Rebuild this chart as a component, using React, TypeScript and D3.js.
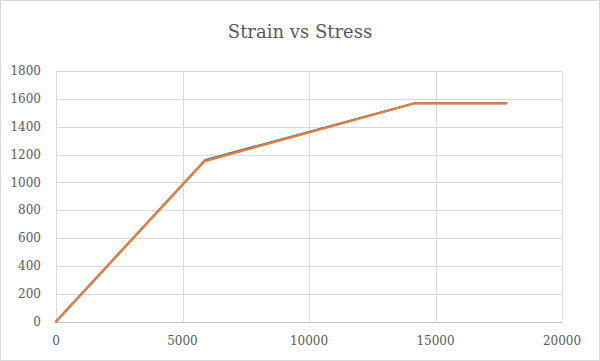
import React, { useEffect, useRef } from 'react';
import * as d3 from 'd3';

const strainTicks = [0, 5000, 10000, 15000, 20000];
const stressTicks = [0, 200, 400, 600, 800, 1000, 1200, 1400, 1600, 1800];

const blueStrain = [0, 5900, 14200, 17800];
const blueStress = [0, 1160, 1570, 1570];
const orangeStrain = [0, 5850, 14200, 17800];
const orangeStress = [0, 1150, 1568, 1568];

export default function App() {
    const svgRef = useRef<SVGSVGElement>(null);

    useEffect(() => {
        if (!svgRef.current) return;
        const width = 600;
        const height = 361;
        const font = 'DejaVu Serif';
        const textColor = '#595959';

        const svg = d3.select(svgRef.current);
        svg.selectAll('*').remove();

        // chart area border
        svg.append('rect')
            .attr('x', 0.5).attr('y', 0.5)
            .attr('width', width - 1).attr('height', height - 1)
            .attr('fill', '#fff')
            .attr('stroke', '#d9d9d9');

        const x = d3.scaleLinear().domain([0, 20000]).range([56, 562]);
        const y = d3.scaleLinear().domain([0, 1800]).range([321.5, 71]);

        svg.append('text')
            .attr('x', width / 2).attr('y', 38)
            .attr('text-anchor', 'middle')
            .attr('font-family', font)
            .attr('font-size', 18)
            .attr('fill', textColor)
            .text('Strain vs Stress');

        const grid = svg.append('g');
        stressTicks.forEach(t => {
            grid.append('line')
                .attr('x1', x(0)).attr('x2', x(20000))
                .attr('y1', Math.round(y(t)) + 0.5).attr('y2', Math.round(y(t)) + 0.5)
                .attr('stroke', t === 0 ? '#bfbfbf' : '#d9d9d9');
            svg.append('text')
                .attr('x', 41).attr('y', y(t))
                .attr('dy', '0.35em')
                .attr('text-anchor', 'end')
                .attr('font-family', font)
                .attr('font-size', 12)
                .attr('fill', textColor)
                .text(t);
        });
        strainTicks.forEach(t => {
            grid.append('line')
                .attr('x1', Math.round(x(t)) + 0.5).attr('x2', Math.round(x(t)) + 0.5)
                .attr('y1', y(0)).attr('y2', y(1800))
                .attr('stroke', '#d9d9d9');
            svg.append('text')
                .attr('x', x(t)).attr('y', 345)
                .attr('text-anchor', 'middle')
                .attr('font-family', font)
                .attr('font-size', 12)
                .attr('fill', textColor)
                .text(t);
        });

        const line = d3.line<[number, number]>()
            .x(d => x(d[0]))
            .y(d => y(d[1]));

        const series = [
            { xs: blueStrain, ys: blueStress, color: '#4472c4' },
            { xs: orangeStrain, ys: orangeStress, color: '#ed7d31' },
        ];
        series.forEach(s => {
            const pts = s.xs.map((v, i) => [v, s.ys[i]] as [number, number]);
            svg.append('path')
                .attr('d', line(pts))
                .attr('fill', 'none')
                .attr('stroke', s.color)
                .attr('stroke-width', 2.25)
                .attr('stroke-linejoin', 'round')
                .attr('stroke-linecap', 'round');
        });
    }, []);

    return (
        <svg
            ref={svgRef}
            width={600}
            height={361}
            style={{ position: 'absolute', left: 0, top: 0 }}
        />
    );
}
